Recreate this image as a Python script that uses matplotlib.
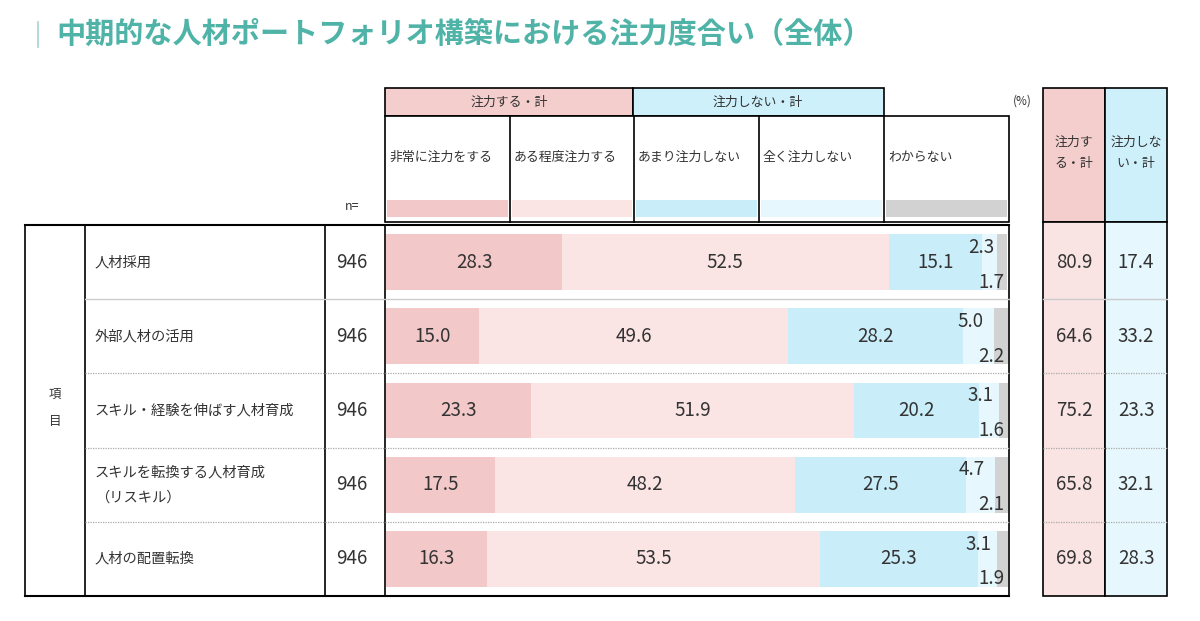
import matplotlib
matplotlib.use("Agg")
import matplotlib.pyplot as plt
from matplotlib.patches import Rectangle
import numpy as np

plt.rcParams['font.family'] = ['Noto Sans CJK JP', 'DejaVu Sans']

title = "中期的な人材ポートフォリオ構築における注力度合い（全体）"
items = ["人材採用", "外部人材の活用", "スキル・経験を伸ばす人材育成",
         "スキルを転換する人材育成\n（リスキル）", "人材の配置転換"]
n_values = [946, 946, 946, 946, 946]
categories = ["非常に注力をする", "ある程度注力する", "あまり注力しない", "全く注力しない", "わからない"]
very = [28.3, 15.0, 23.3, 17.5, 16.3]
some = [52.5, 49.6, 51.9, 48.2, 53.5]
not_much = [15.1, 28.2, 20.2, 27.5, 25.3]
not_at_all = [2.3, 5.0, 3.1, 4.7, 3.1]
dont_know = [1.7, 2.2, 1.6, 2.1, 1.9]
total_focus = [80.9, 64.6, 75.2, 65.8, 69.8]
total_not = [17.4, 33.2, 23.3, 32.1, 28.3]
group_labels = ["注力する・計", "注力しない・計"]
summary_labels = ["注力す\nる・計", "注力しな\nい・計"]

colors = ["#f2c8c8", "#fbe4e4", "#c9eefa", "#e6f7fd", "#d2d2d2"]
pink_head, blue_head = "#f4cdcd", "#cdf0fb"
pink_body, blue_body = "#fae3e3", "#e6f7fd"
txt = "#333333"

W, H = 1200, 621
fig = plt.figure(figsize=(12, 6.21), dpi=100)
fig.patch.set_facecolor("white")

# background axes in pixel units for the table frame
bg = fig.add_axes([0, 0, 1, 1])
bg.set_xlim(0, W)
bg.set_ylim(H, 0)
bg.axis("off")

# title
bg.plot([38, 38], [22, 47], color="#a8d4ce", lw=1.2)
bg.text(56, 34, title, fontsize=21, color="#4fb3a7", fontweight="bold", va="center", ha="left")

# group headers
bg.add_patch(Rectangle((385, 88), 248, 28, facecolor=pink_head, edgecolor="black", lw=1.2))
bg.add_patch(Rectangle((633, 88), 251, 28, facecolor=blue_head, edgecolor="black", lw=1.2))
bg.text(509, 102, group_labels[0], fontsize=9.3, color=txt, ha="center", va="center")
bg.text(758, 102, group_labels[1], fontsize=9.3, color=txt, ha="center", va="center")

# category header with swatches
col_x = [385, 510, 634, 759, 884, 1009]
bg.add_patch(Rectangle((385, 116), 624, 106, facecolor="white", edgecolor="black", lw=1.2))
for i, cat in enumerate(categories):
    if i > 0:
        bg.plot([col_x[i], col_x[i]], [116, 222], color="black", lw=1.2)
    bg.text(col_x[i] + 4, 157, cat, fontsize=9.3, color=txt, ha="left", va="center")
    bg.add_patch(Rectangle((col_x[i] + 2, 200), col_x[i + 1] - col_x[i] - 4, 17,
                           facecolor=colors[i], edgecolor="none"))
bg.text(352, 207, "n=", fontsize=9, color=txt, ha="center", va="center")
bg.text(1022, 101, "(%)", fontsize=8.5, color=txt, ha="center", va="center")

# main body frame
top, bot = 225, 596
row_h = (bot - top) / len(items)
bg.plot([25, 1009], [top, top], color="black", lw=1.5)
bg.plot([25, 1009], [bot, bot], color="black", lw=1.5)
for x in [25, 85, 325, 385, 1009]:
    bg.plot([x, x], [top, bot], color="black", lw=1.2)
for i in range(1, len(items)):
    y = top + i * row_h
    if i == 1:
        bg.plot([85, 1009], [y, y], color="#cccccc", lw=1.0)
    else:
        bg.plot([85, 1009], [y, y], color="#aaaaaa", lw=0.9, ls=(0, (1, 1)))
bg.text(55, 394, "項", fontsize=9, color=txt, ha="center", va="center")
bg.text(55, 421, "目", fontsize=9, color=txt, ha="center", va="center")
for i, (item, n) in enumerate(zip(items, n_values)):
    yc = top + (i + 0.5) * row_h
    bg.text(95, yc, item, fontsize=10.3, color=txt, ha="left", va="center", linespacing=2.0)
    bg.text(352, yc, str(n), fontsize=13.5, color=txt, ha="center", va="center")

# summary columns
bg.add_patch(Rectangle((1043, 88), 62, 134, facecolor=pink_head, edgecolor="black", lw=1.2))
bg.add_patch(Rectangle((1105, 88), 62, 134, facecolor=blue_head, edgecolor="black", lw=1.2))
bg.add_patch(Rectangle((1043, 222), 62, bot - 222, facecolor=pink_body, edgecolor="black", lw=1.2))
bg.add_patch(Rectangle((1105, 222), 62, bot - 222, facecolor=blue_body, edgecolor="black", lw=1.2))
bg.text(1074, 153, summary_labels[0], fontsize=9.3, color=txt, ha="center", va="center", linespacing=1.9)
bg.text(1136, 153, summary_labels[1], fontsize=9.3, color=txt, ha="center", va="center", linespacing=1.9)
for i in range(1, len(items)):
    y = top + i * row_h
    if i == 1:
        bg.plot([1043, 1167], [y, y], color="#cccccc", lw=1.0)
    else:
        bg.plot([1043, 1167], [y, y], color="#aaaaaa", lw=0.9, ls=(0, (1, 1)))
for i, (a, b) in enumerate(zip(total_focus, total_not)):
    yc = top + (i + 0.5) * row_h
    bg.text(1074, yc, f"{a:.1f}", fontsize=13.5, color=txt, ha="center", va="center")
    bg.text(1136, yc, f"{b:.1f}", fontsize=13.5, color=txt, ha="center", va="center")

# stacked bars
ax = fig.add_axes([386 / W, (H - bot) / H, 622 / W, (bot - top) / H])
ax.patch.set_alpha(0)
ax.axis("off")
ax.set_xlim(0, 100)
ax.set_ylim(len(items) - 0.5, -0.5)
y = np.arange(len(items))
series = [very, some, not_much, not_at_all, dont_know]
left = np.zeros(len(items))
for k, vals in enumerate(series):
    vals = np.array(vals)
    ax.barh(y, vals, left=left, height=0.75, color=colors[k], edgecolor="none")
    for i, v in enumerate(vals):
        if k < 3:
            ax.text(left[i] + v / 2, i, f"{v:.1f}", fontsize=13.5, color=txt, ha="center", va="center")
        elif k == 3:
            ax.text(left[i] + v / 2 - 1.4, i - 0.2, f"{v:.1f}", fontsize=13.5, color=txt, ha="center", va="center")
        else:
            ax.text(99.4, i + 0.27, f"{v:.1f}", fontsize=13.5, color=txt, ha="right", va="center")
    left = left + vals

fig.savefig("out.png", dpi=100)
